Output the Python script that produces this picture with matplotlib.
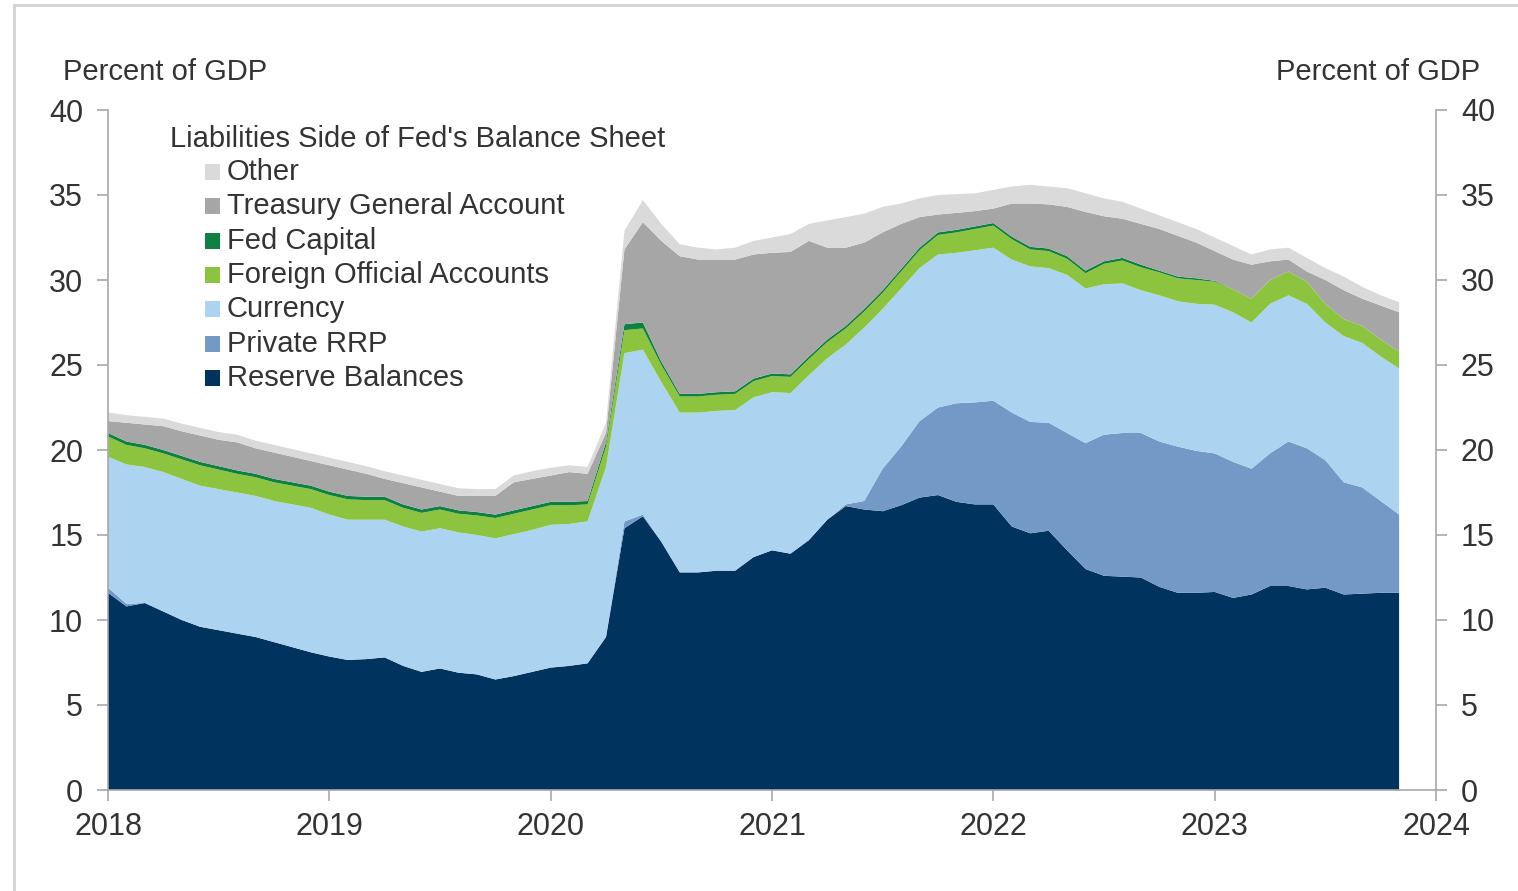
import matplotlib
matplotlib.use("Agg")
import matplotlib.pyplot as plt
from matplotlib.patches import Rectangle
from matplotlib.lines import Line2D
import numpy as np
import pandas as pd

plt.rcParams['font.family'] = ['Liberation Sans', 'DejaVu Sans']

# ---- data (percent of GDP, monthly Jan 2018 - Nov 2023) ----
months = pd.date_range('2018-01-01', periods=71, freq='MS')

reserve_balances = [
    11.6, 10.8, 11.0, 10.5, 10.0, 9.6, 9.4, 9.2, 9.0, 8.7, 8.4, 8.1,
    7.85, 7.65, 7.7, 7.8, 7.3, 6.95, 7.15, 6.9, 6.8, 6.5, 6.7, 6.95,
    7.2, 7.3, 7.45, 9.0, 15.4, 16.1, 14.6, 12.8, 12.8, 12.9, 12.9, 13.7,
    14.1, 13.9, 14.7, 15.9, 16.7, 16.5, 16.4, 16.75, 17.2, 17.35, 16.95, 16.8,
    16.8, 15.5, 15.1, 15.25, 14.1, 13.0, 12.6, 12.55, 12.5, 11.95, 11.6, 11.6,
    11.65, 11.3, 11.5, 12.0, 12.0, 11.8, 11.9, 11.5, 11.55, 11.6, 11.6]

private_rrp = [
    0.3, 0.15, 0, 0, 0, 0, 0, 0, 0, 0, 0, 0,
    0, 0, 0, 0, 0, 0, 0, 0, 0, 0, 0, 0,
    0, 0, 0, 0, 0.4, 0.1, 0, 0, 0, 0, 0, 0,
    0, 0, 0, 0, 0.1, 0.5, 2.5, 3.45, 4.5, 5.15, 5.8, 6.0,
    6.1, 6.7, 6.55, 6.35, 6.9, 7.4, 8.3, 8.45, 8.5, 8.55, 8.6, 8.35,
    8.15, 8.0, 7.4, 7.8, 8.5, 8.3, 7.5, 6.6, 6.25, 5.4, 4.6]

currency = [
    7.7, 8.2, 8.0, 8.2, 8.3, 8.3, 8.3, 8.3, 8.3, 8.3, 8.4, 8.5,
    8.35, 8.25, 8.2, 8.1, 8.2, 8.25, 8.25, 8.25, 8.2, 8.3, 8.35, 8.35,
    8.4, 8.35, 8.35, 10.0, 9.9, 9.7, 9.4, 9.4, 9.4, 9.4, 9.45, 9.4,
    9.3, 9.45, 9.7, 9.5, 9.4, 10.2, 9.4, 9.3, 9.0, 9.0, 8.85, 8.95,
    9.0, 9.0, 9.15, 9.1, 9.3, 9.1, 8.85, 8.8, 8.4, 8.6, 8.55, 8.65,
    8.75, 8.8, 8.6, 8.8, 8.6, 8.5, 8.1, 8.6, 8.5, 8.5, 8.6]

foreign_official = [
    1.2, 1.15, 1.1, 1.1, 1.15, 1.2, 1.15, 1.1, 1.1, 1.1, 1.1, 1.1,
    1.15, 1.2, 1.15, 1.15, 1.1, 1.1, 1.1, 1.1, 1.15, 1.2, 1.2, 1.2,
    1.15, 1.1, 1.0, 1.2, 1.35, 1.25, 1.0, 0.95, 0.95, 0.95, 0.95, 0.95,
    0.95, 0.95, 0.95, 0.95, 0.95, 0.95, 0.95, 1.0, 1.05, 1.15, 1.2, 1.25,
    1.3, 1.2, 1.0, 1.0, 0.95, 0.9, 1.2, 1.35, 1.35, 1.35, 1.35, 1.4,
    1.35, 1.35, 1.4, 1.4, 1.4, 1.3, 1.1, 1.0, 1.0, 1.0, 1.0]

fed_capital = [
    0.2, 0.2, 0.2, 0.2, 0.2, 0.2, 0.2, 0.2, 0.2, 0.2, 0.2, 0.2,
    0.2, 0.2, 0.2, 0.2, 0.2, 0.2, 0.2, 0.2, 0.2, 0.2, 0.2, 0.2,
    0.2, 0.2, 0.2, 0.25, 0.35, 0.35, 0.2, 0.15, 0.15, 0.15, 0.15, 0.15,
    0.15, 0.15, 0.15, 0.15, 0.15, 0.15, 0.15, 0.15, 0.15, 0.15, 0.15, 0.15,
    0.15, 0.15, 0.15, 0.15, 0.15, 0.15, 0.15, 0.15, 0.15, 0.1, 0.1, 0.1,
    0.05, 0, 0, 0, 0, 0, 0, 0, 0, 0, 0]

treasury_general_account = [
    0.7, 1.1, 1.2, 1.4, 1.45, 1.55, 1.55, 1.65, 1.5, 1.55, 1.5, 1.45,
    1.55, 1.55, 1.35, 1.05, 1.25, 1.3, 0.85, 0.85, 0.95, 1.1, 1.65, 1.6,
    1.55, 1.75, 1.6, 0.55, 4.4, 5.9, 7.1, 8.1, 7.9, 7.8, 7.75, 7.3,
    7.1, 7.2, 6.8, 5.4, 4.6, 3.9, 3.4, 2.65, 1.8, 1.05, 1.0, 0.9,
    0.85, 1.95, 2.55, 2.6, 2.9, 3.45, 2.65, 2.3, 2.4, 2.45, 2.4, 2.1,
    1.75, 1.75, 2.0, 1.1, 0.7, 0.6, 1.4, 1.7, 1.6, 2.0, 2.3]

other = [
    0.5, 0.45, 0.45, 0.45, 0.45, 0.45, 0.45, 0.45, 0.45, 0.45, 0.45, 0.45,
    0.45, 0.45, 0.45, 0.45, 0.45, 0.45, 0.45, 0.45, 0.4, 0.4, 0.4, 0.45,
    0.45, 0.4, 0.4, 0.6, 1.1, 1.3, 1.0, 0.7, 0.7, 0.6, 0.7, 0.8,
    0.9, 1.05, 1.0, 1.6, 1.8, 1.7, 1.5, 1.2, 1.1, 1.15, 1.1, 1.05,
    1.1, 1.0, 1.1, 1.05, 1.1, 1.1, 1.05, 1.0, 0.9, 0.8, 0.8, 0.8,
    0.8, 0.8, 0.6, 0.7, 0.7, 0.8, 0.7, 0.8, 0.7, 0.6, 0.6]

series_names = ["Reserve Balances", "Private RRP", "Currency",
                "Foreign Official Accounts", "Fed Capital",
                "Treasury General Account", "Other"]
series_colors = ["#00335E", "#7399C6", "#ACD3F0", "#8CC43F", "#0E8040",
                 "#A6A6A6", "#DADADA"]
legend_order = ["Other", "Treasury General Account", "Fed Capital",
                "Foreign Official Accounts", "Currency", "Private RRP",
                "Reserve Balances"]
year_ticks = [2018, 2019, 2020, 2021, 2022, 2023, 2024]
y_ticks = [0, 5, 10, 15, 20, 25, 30, 35, 40]

# ---- figure ----
W, H = 1518, 891
fig = plt.figure(figsize=(W / 100, H / 100), dpi=100)
fig.patch.set_facecolor("white")

def fx(px):
    return px / W

def fy(py):
    return 1 - py / H

ax = fig.add_axes([fx(108), fy(790), fx(1436) - fx(108), fy(110) - fy(790)])

x = months.year + (months.month - 1) / 12.0
ys = [reserve_balances, private_rrp, currency, foreign_official,
      fed_capital, treasury_general_account, other]
ax.stackplot(x, *[np.array(v) for v in ys], colors=series_colors,
             linewidth=0, antialiased=True)

ax.set_xlim(2018, 2024)
ax.set_ylim(0, 40)

grey = "#A8A8A8"
txt = "#333333"
TICK_FS = 22
TEXT_FS = 21
ax.set_xticks(year_ticks)
ax.set_xticklabels([str(t) for t in year_ticks])
ax.set_yticks(y_ticks)
ax.tick_params(axis="both", colors=grey, labelcolor=txt, labelsize=TICK_FS,
               length=8, width=1.2, direction="out")
ax.tick_params(axis="x", pad=8)
ax.tick_params(axis="y", pad=10)
for s in ["top", "right"]:
    ax.spines[s].set_visible(False)
for s in ["left", "bottom"]:
    ax.spines[s].set_color(grey)
    ax.spines[s].set_linewidth(1.2)

ax2 = ax.twinx()
ax2.set_ylim(0, 40)
ax2.set_yticks(y_ticks)
ax2.tick_params(axis="y", colors=grey, labelcolor=txt, labelsize=TICK_FS,
                length=8, width=1.2, direction="out", pad=10)
for s in ["top", "left", "bottom"]:
    ax2.spines[s].set_visible(False)
ax2.spines["right"].set_color(grey)
ax2.spines["right"].set_linewidth(1.2)

# axis unit labels
fig.text(fx(63), fy(72), "Percent of GDP", fontsize=TEXT_FS, color=txt,
         ha="left", va="center")
fig.text(fx(1480), fy(72), "Percent of GDP", fontsize=TEXT_FS, color=txt,
         ha="right", va="center")

# legend (manual)
fig.text(fx(170), fy(139), "Liabilities Side of Fed's Balance Sheet",
         fontsize=TEXT_FS, color=txt, ha="left", va="center")
name_to_color = dict(zip(series_names, series_colors))
for i, name in enumerate(legend_order):
    yc = 172 + i * 34.3
    fig.add_artist(Rectangle((fx(205), fy(yc + 8)), fx(15), fy(yc - 8) - fy(yc + 8),
                             transform=fig.transFigure,
                             facecolor=name_to_color[name], edgecolor="none"))
    fig.text(fx(227), fy(yc), name, fontsize=TEXT_FS, color=txt,
             ha="left", va="center")

# outer frame lines
fig.add_artist(Line2D([fx(14), 1], [fy(5), fy(5)], color="#D3D3D3",
                      linewidth=2, transform=fig.transFigure))
fig.add_artist(Line2D([fx(14), fx(14)], [fy(5), 0], color="#D3D3D3",
                      linewidth=2, transform=fig.transFigure))

fig.savefig("out.png", dpi=100, facecolor="white")
